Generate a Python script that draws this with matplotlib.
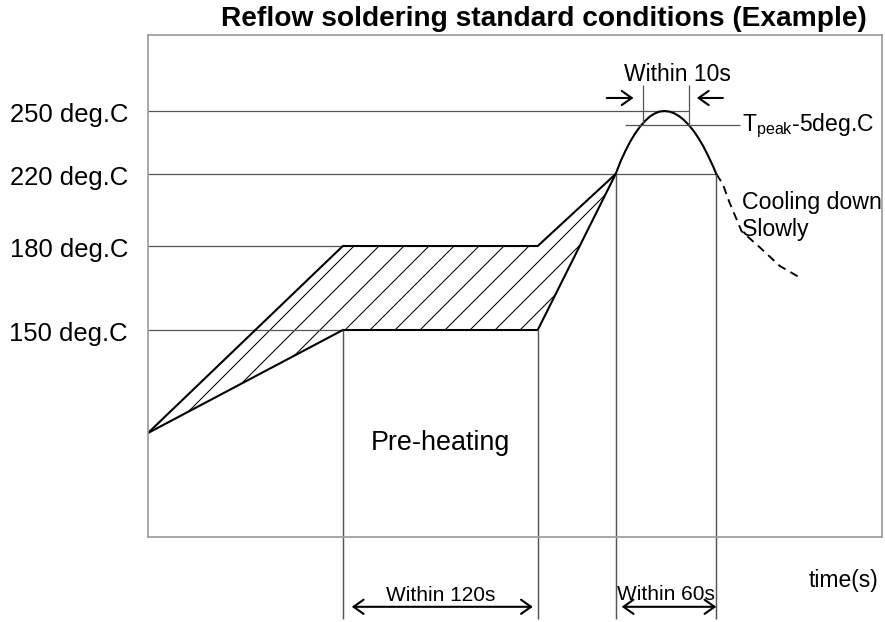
import numpy as np
import matplotlib.pyplot as plt

plt.rcParams['font.family'] = ['Liberation Sans', 'DejaVu Sans']
plt.rcParams['mathtext.default'] = 'regular'
plt.rcParams['hatch.linewidth'] = 0.5
plt.rcParams['hatch.color'] = 'black'

# temperature levels (deg C) and how far each guide line runs (s)
levels = [150, 180, 220, 250]
level_labels = ['150 deg.C', '180 deg.C', '220 deg.C', '250 deg.C']
level_ends = [120, 120, 350, 333]
t_peak_minus5 = 245

# pre-heating envelope (time s, temp deg C)
env_t = [0, 120, 240, 288]
upper_T = [25, 180, 180, 220]
lower_T = [25, 150, 150, 220]

# reflow peak
peak_t = [288, 291, 294, 297, 300, 303, 306, 309, 312, 315, 318,
          321, 324, 327, 330, 333, 336, 339, 342, 345, 348, 350]
peak_T = [220, 226.4, 231.8, 236.6, 240.7, 244.2, 246.4, 248.0, 249.1, 249.8, 250,
          249.8, 249.2, 248.2, 246.8, 245.0, 242.0, 238.3, 234.1, 229.2, 223.9, 220]

# slow cooling (dashed)
cool_t = [350, 354, 358, 365.5, 376.6, 389, 403]
cool_T = [220, 214.4, 204.4, 188.3, 179.6, 172.9, 168.2]

preheat = (120, 240)
reflow = (288, 350)
within10 = (305, 333)

# the drawing is schematic: temperature axis is not linear
axis_T = [0, 25, 150, 180, 220, 245, 250, 285]
axis_pos = [0, 104, 207, 291, 363, 412, 426, 502]


def fwd(T):
    return np.interp(T, axis_T, axis_pos)


def inv(p):
    return np.interp(p, axis_pos, axis_T)


fig = plt.figure(figsize=(5.9, 4.1533), dpi=150)
ax = fig.add_axes([0.1672, 0.1364, 0.8294, 0.8058])
ax.set_yscale('function', functions=(fwd, inv))
ax.set_xlim(0, 452)
ax.set_ylim(0, 285)

for s in ax.spines.values():
    s.set_color('#9a9a9a')
    s.set_linewidth(0.8)

ax.set_xticks([])
ax.set_yticks(levels, level_labels)
ax.tick_params(axis='y', length=0, pad=9.6, labelsize=12.3)

grey = '#555555'
xt = ax.get_xaxis_transform()

# guide lines
ax.hlines(levels, 0, level_ends, color=grey, lw=0.6)

# hatched pre-heating window
ax.fill_between(env_t, lower_T, upper_T, facecolor='none', edgecolor='black',
                hatch='//', linewidth=0)
ax.plot(env_t, upper_T, color='black', lw=1.0)
ax.plot(env_t, lower_T, color='black', lw=1.0)

# peak and cooling
ax.plot(peak_t, peak_T, color='black', lw=1.0)
ax.plot(cool_t, cool_T, color='black', lw=0.9, linestyle=(0, (4.5, 3)))

# vertical markers down past the frame
for x, top in [(preheat[0], 150), (preheat[1], 150), (reflow[0], 220), (reflow[1], 220)]:
    ax.vlines(x, 0, top, color=grey, lw=0.7)
    ax.vlines(x, -0.163, 0, color=grey, lw=0.7, transform=xt, clip_on=False)

# Tpeak - 5 marker and within 10s
ax.hlines(t_peak_minus5, 293.5, 364.3, color=grey, lw=0.6)
ax.vlines(within10, t_peak_minus5, 262, color=grey, lw=0.6)
ax.text(365.5, t_peak_minus5, r'$T_{peak}$-5deg.C', fontsize=11, va='center', ha='left')
ax.text(326, 267.5, 'Within 10s', fontsize=11, ha='center', va='center')

arr = dict(arrowstyle='->,head_length=0.48,head_width=0.34', color='black',
           lw=1.0, mutation_scale=10, shrinkA=0, shrinkB=0)
ax.annotate('', xy=(within10[0] - 6, 256), xytext=(within10[0] - 22.5, 256), arrowprops=arr)
ax.annotate('', xy=(within10[1] + 5, 256), xytext=(within10[1] + 21, 256), arrowprops=arr)

# bottom dimension arrows
arr2 = dict(arrowstyle='<->,head_length=0.48,head_width=0.34', color='black',
            lw=1.0, mutation_scale=10, shrinkA=0, shrinkB=0)
ax.annotate('', xy=(preheat[0] + 5.5, -0.139), xytext=(preheat[1] - 3, -0.139),
            xycoords=xt, textcoords=xt, arrowprops=arr2, annotation_clip=False)
ax.annotate('', xy=(reflow[0] + 3.7, -0.139), xytext=(reflow[1], -0.139),
            xycoords=xt, textcoords=xt, arrowprops=arr2, annotation_clip=False)
ax.text(sum(preheat) / 2, -0.115, 'Within 120s', fontsize=10, ha='center', va='center',
        transform=xt, clip_on=False)
ax.text(sum(reflow) / 2, -0.112, 'Within 60s', fontsize=10, ha='center', va='center',
        transform=xt, clip_on=False)

ax.text(sum(preheat) / 2, 0.189, 'Pre-heating', fontsize=12.9, ha='center', va='center',
        transform=xt)
ax.text(366, 205, 'Cooling down', fontsize=11.1, ha='left', va='center')
ax.text(365.5, 190, 'Slowly', fontsize=11.1, ha='left', va='center')
ax.text(0.9946, -0.084, 'time(s)', fontsize=11, ha='right', va='center',
        transform=ax.transAxes, clip_on=False)

fig.text(0.615, 0.9695, 'Reflow soldering standard conditions (Example)',
         fontsize=13.5, fontweight='bold', ha='center', va='center')

fig.savefig('out.png', dpi=150)
